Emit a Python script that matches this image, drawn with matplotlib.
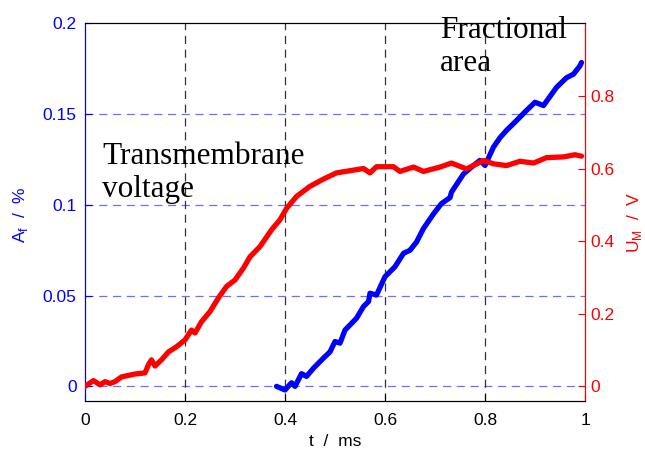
import matplotlib
matplotlib.use("Agg")
import matplotlib.pyplot as plt

plt.rcParams['font.family'] = ['Liberation Sans', 'DejaVu Sans']

# Transmembrane voltage U_M (V) vs time (ms)
t_u = [0.0, 0.017, 0.03, 0.04, 0.05, 0.06, 0.073, 0.1, 0.12, 0.127, 0.133, 0.14,
       0.153, 0.167, 0.183, 0.2, 0.213, 0.22, 0.233, 0.25, 0.267, 0.283, 0.3, 0.317,
       0.33, 0.35, 0.373, 0.39, 0.403, 0.423, 0.45, 0.477, 0.503, 0.53, 0.557, 0.57,
       0.583, 0.617, 0.63, 0.657, 0.677, 0.71, 0.733, 0.763, 0.797, 0.817, 0.843,
       0.87, 0.897, 0.923, 0.957, 0.98, 0.993]
u_m = [0.0, 0.016, 0.004, 0.013, 0.008, 0.013, 0.026, 0.034, 0.037, 0.06, 0.073, 0.056,
       0.073, 0.095, 0.109, 0.128, 0.155, 0.147, 0.178, 0.206, 0.244, 0.275, 0.293, 0.326,
       0.357, 0.385, 0.431, 0.459, 0.49, 0.523, 0.551, 0.571, 0.588, 0.594, 0.6, 0.588,
       0.605, 0.605, 0.592, 0.604, 0.592, 0.604, 0.615, 0.599, 0.622, 0.613, 0.608,
       0.62, 0.615, 0.63, 0.632, 0.638, 0.634]

# Fractional area A_f (%) vs time (ms)
t_a = [0.383, 0.4, 0.413, 0.42, 0.433, 0.443, 0.457, 0.477, 0.49, 0.5, 0.51, 0.52,
       0.543, 0.557, 0.567, 0.57, 0.583, 0.6, 0.62, 0.637, 0.65, 0.663, 0.677, 0.697,
       0.713, 0.73, 0.733, 0.757, 0.777, 0.79, 0.8, 0.817, 0.83, 0.843, 0.863, 0.883,
       0.9, 0.917, 0.943, 0.963, 0.977, 0.99, 0.993]
a_f = [0.0, -0.002, 0.002, 0.0, 0.007, 0.0055, 0.010, 0.0156, 0.019, 0.0247, 0.0238, 0.031,
       0.0375, 0.044, 0.0467, 0.0513, 0.0503, 0.0604, 0.0659, 0.0733, 0.075, 0.0795, 0.087, 0.095,
       0.1007, 0.104, 0.107, 0.117, 0.1217, 0.1245, 0.1217, 0.1318, 0.137, 0.141, 0.1464, 0.152,
       0.1565, 0.1547, 0.1647, 0.170, 0.172, 0.1766, 0.1784]

x_ticks = [0, 0.2, 0.4, 0.6, 0.8, 1]
x_ticklabels = ['0', '0.2', '0.4', '0.6', '0.8', '1']
left_ticks = [0, 0.05, 0.1, 0.15, 0.2]
left_ticklabels = ['0', '0.05', '0.1', '0.15', '0.2']
right_ticks = [0, 0.2, 0.4, 0.6, 0.8]
right_ticklabels = ['0', '0.2', '0.4', '0.6', '0.8']

W, H = 645, 449
fig = plt.figure(figsize=(W / 100, H / 100), dpi=100)
x0, x1, y0, y1 = 85, 585, 23.3, 400.7
ax = fig.add_axes([x0 / W, 1 - y1 / H, (x1 - x0) / W, (y1 - y0) / H])
ax2 = ax.twinx()

BLUE = '#0000ff'
RED = '#ff0000'

ax.set_xlim(0, 1)
ax.set_ylim(-0.0079, 0.2)
ax2.set_ylim(-0.0395, 1.0)

dash = (0, (6.5, 4.5))
for yv in left_ticks[:-1]:
    ax.axhline(yv, color='#6f6fff', lw=0.9, ls=dash, zorder=0)
for xv in x_ticks[1:-1]:
    ax.axvline(xv, color='#333333', lw=0.9, ls=dash, zorder=0)

ax.plot(t_a, a_f, color=BLUE, lw=3.8, solid_capstyle='round', solid_joinstyle='round', zorder=3)
ax2.plot(t_u, u_m, color=RED, lw=3.8, solid_capstyle='round', solid_joinstyle='round', zorder=3)

ax.set_xticks(x_ticks)
ax.set_xticklabels(x_ticklabels)
ax.set_yticks(left_ticks)
ax.set_yticklabels(left_ticklabels)
ax2.set_yticks(right_ticks)
ax2.set_yticklabels(right_ticklabels)

ax.tick_params(axis='x', direction='in', length=5, colors='black', labelsize=12.5, pad=9)
ax.tick_params(axis='y', direction='in', length=5, colors=BLUE, labelsize=12.5, pad=6)
ax2.tick_params(axis='y', direction='in', length=5, colors=RED, labelsize=12.5, pad=4)

for a in (ax, ax2):
    a.spines['top'].set_color('black')
    a.spines['bottom'].set_color('black')
ax.spines['left'].set_color(BLUE)
ax2.spines['left'].set_color(BLUE)
ax2.spines['right'].set_color(RED)
ax.spines['right'].set_color(RED)

ax.set_xlabel('t  /  ms', fontsize=12.5, labelpad=4)
fig.text(20 / W, 1 - 215 / H, r'A$_{\mathregular{f}}$  /  %', color=BLUE, fontsize=12.5,
         rotation=90, ha='center', va='center')
fig.text(634 / W, 1 - 222 / H, r'U$_{\mathregular{M}}$  /  V', color=RED, fontsize=12.5,
         rotation=90, ha='center', va='center')

fig.text(102 / W, 1 - 197 / H, 'Transmembrane\nvoltage', family=['Liberation Serif'],
         fontsize=22.5, ha='left', va='baseline', color='black')
fig.text(440 / W, 1 - 71 / H, 'Fractional\narea', family=['Liberation Serif'],
         fontsize=22.5, ha='left', va='baseline', color='black')

fig.savefig('out.png', dpi=100)
